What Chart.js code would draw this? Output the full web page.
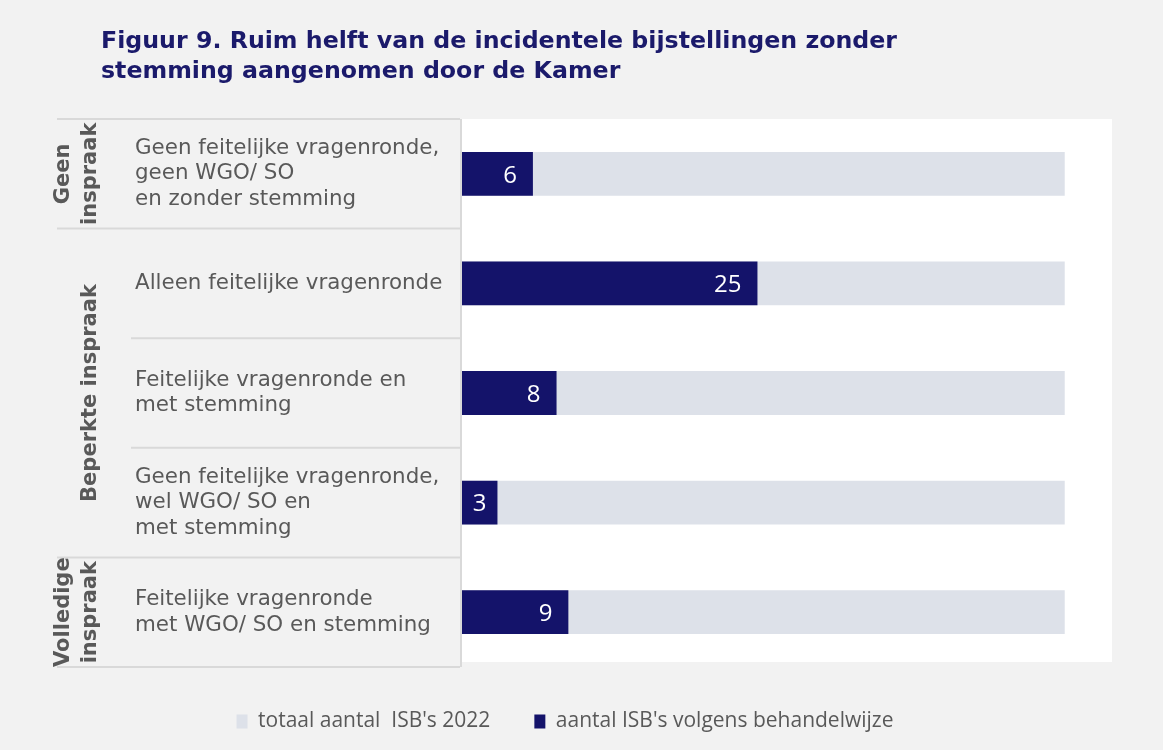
<!DOCTYPE html>
<html lang="nl">
<head>
    <meta charset="UTF-8">
    <title>Figuur 9</title>
    <script src="https://cdn.jsdelivr.net/npm/chart.js"></script>
    <style>
        body {
            margin: 0;
            background: #f2f2f2;
        }
        .chart-box {
            width: 1163px;
            height: 750px;
        }
    </style>
</head>
<body>
    <div class="chart-box">
        <canvas id="isbChart"></canvas>
    </div>

    <script>
        const titleLines = [
            'Figuur 9. Ruim helft van de incidentele bijstellingen zonder',
            'stemming aangenomen door de Kamer'
        ];

        const categories = [
            ['Geen feitelijke vragenronde,', 'geen WGO/ SO', 'en zonder stemming'],
            ['Alleen feitelijke vragenronde'],
            ['Feitelijke vragenronde en', 'met stemming'],
            ['Geen feitelijke vragenronde,', 'wel WGO/ SO en', 'met stemming'],
            ['Feitelijke vragenronde', 'met WGO/ SO en stemming']
        ];

        const groupLabels = [['Geen', 'inspraak'], ['Beperkte inspraak'], ['Volledige', 'inspraak']];
        const groupStart = [0, 1, 4];
        const groupEnd = [0, 3, 4];

        const totalISB = [51, 51, 51, 51, 51];
        const perTreatment = [6, 25, 8, 3, 9];

        const legendTotal = "totaal aantal  ISB's 2022";
        const legendPart = "aantal ISB's volgens behandelwijze";

        const navy = '#14136a';
        const lightGrey = '#dde1e9';
        const textGrey = '#595959';
        const lineGrey = '#d9d9d9';

        // left label panel, white plot background, separators, title
        const panelPlugin = {
            id: 'panel',
            beforeDraw(chart) {
                const ctx = chart.ctx;
                const ca = chart.chartArea;
                const y = chart.scales.y;
                const n = categories.length;
                const rowH = (ca.bottom - ca.top) / n;

                ctx.save();
                ctx.fillStyle = '#f2f2f2';
                ctx.fillRect(0, 0, chart.width, chart.height);
                ctx.fillStyle = '#ffffff';
                ctx.fillRect(ca.left, ca.top, ca.right - ca.left, ca.bottom - ca.top - 5);

                ctx.strokeStyle = lineGrey;
                ctx.lineWidth = 2;
                for (let i = 0; i <= n; i++) {
                    const by = i < n ? y.getPixelForValue(i) - rowH / 2 : ca.bottom;
                    const edge = i === 0 || i === n || groupStart.includes(i);
                    ctx.beginPath();
                    ctx.moveTo(edge ? 57 : 131, by);
                    ctx.lineTo(ca.left - 2, by);
                    ctx.stroke();
                }
                ctx.beginPath();
                ctx.moveTo(ca.left - 1, ca.top);
                ctx.lineTo(ca.left - 1, ca.bottom);
                ctx.stroke();

                // category labels
                ctx.fillStyle = textGrey;
                ctx.font = '21.4px "DejaVu Sans"';
                ctx.textAlign = 'left';
                ctx.textBaseline = 'middle';
                categories.forEach((lines, i) => {
                    const cy = y.getPixelForValue(i);
                    lines.forEach((t, j) => {
                        ctx.fillText(t, 135, cy + (j - (lines.length - 1) / 2) * 25.5);
                    });
                });

                // group labels, rotated
                ctx.font = 'bold 21px "DejaVu Sans"';
                ctx.textAlign = 'center';
                groupLabels.forEach((lines, g) => {
                    const cy = (y.getPixelForValue(groupStart[g]) + y.getPixelForValue(groupEnd[g])) / 2;
                    lines.forEach((t, j) => {
                        const x = 91 - (lines.length - 1 - j) * 27;
                        ctx.save();
                        ctx.translate(x, cy);
                        ctx.rotate(-Math.PI / 2);
                        ctx.fillText(t, 0, 0);
                        ctx.restore();
                    });
                });

                // title
                ctx.fillStyle = '#1b1a6b';
                ctx.font = 'bold 23.7px "DejaVu Sans"';
                ctx.textAlign = 'left';
                titleLines.forEach((t, j) => ctx.fillText(t, 101, 42 + j * 30));
                ctx.restore();
            },
            afterDatasetsDraw(chart) {
                const ctx = chart.ctx;
                const meta = chart.getDatasetMeta(1);
                ctx.save();
                ctx.fillStyle = '#ffffff';
                ctx.font = '24px "Open Sans"';
                ctx.textAlign = 'center';
                ctx.textBaseline = 'middle';
                meta.data.forEach((bar, i) => {
                    const txt = String(perTreatment[i]);
                    const w = ctx.measureText(txt).width;
                    const x = Math.max((bar.base + bar.x) / 2, bar.x - 16 - w / 2);
                    ctx.fillText(txt, x, bar.y + 2);
                });
                ctx.restore();
            }
        };

        new Chart(document.getElementById('isbChart'), {
            type: 'bar',
            data: {
                labels: categories,
                datasets: [{
                    label: legendTotal,
                    data: totalISB,
                    backgroundColor: lightGrey,
                    grouped: false,
                    order: 1,
                    barPercentage: 0.4,
                    categoryPercentage: 1
                }, {
                    label: legendPart,
                    data: perTreatment,
                    backgroundColor: navy,
                    grouped: false,
                    order: 0,
                    barPercentage: 0.4,
                    categoryPercentage: 1
                }]
            },
            options: {
                indexAxis: 'y',
                responsive: true,
                maintainAspectRatio: false,
                animation: false,
                layout: {
                    padding: { left: 18, right: 51, top: 119, bottom: 8 }
                },
                plugins: {
                    title: { display: false },
                    tooltip: { enabled: false },
                    legend: {
                        position: 'bottom',
                        reverse: true,
                        labels: {
                            boxWidth: 11,
                            boxHeight: 14,
                            padding: 44,
                            color: textGrey,
                            font: { family: '"Open Sans"', size: 21 }
                        }
                    }
                },
                scales: {
                    y: {
                        grid: { display: false },
                        border: { display: false },
                        ticks: { display: false },
                        afterFit(scale) { scale.width = 444; }
                    },
                    x: {
                        min: 0,
                        max: 55,
                        grid: { display: false },
                        border: { display: false },
                        ticks: { display: false },
                        afterFit(scale) { scale.height = 0; }
                    }
                }
            },
            plugins: [panelPlugin]
        });
    </script>
</body>
</html>
